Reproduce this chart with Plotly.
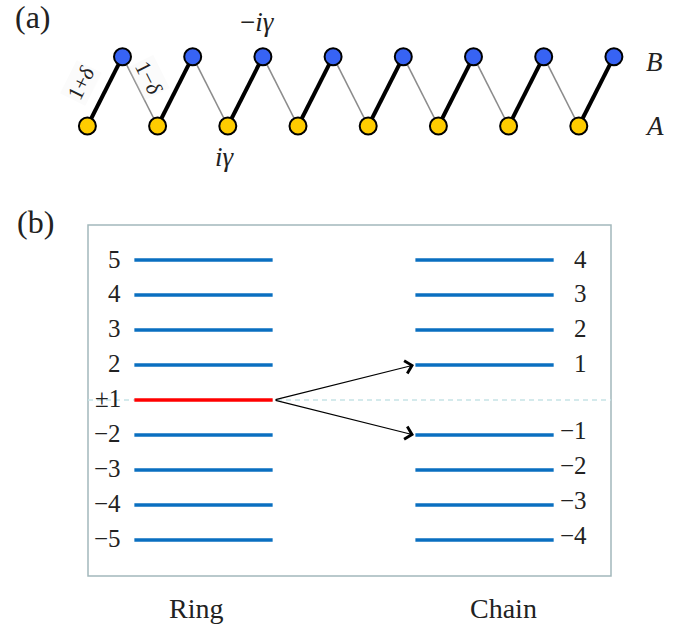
import plotly.graph_objects as go

# ---------------- data ----------------
# panel (a): SSH-like chain, unit cells with A and B sites
unit_cells = [0, 1, 2, 3, 4, 5, 6, 7]
b_offset = 0.5
row_A = 0
row_B = 1

# panel (b): energy levels (slot positions and their labels)
ring_slots = [4, 3, 2, 1, 0, -1, -2, -3, -4]
ring_labels = ["5", "4", "3", "2", "±1", "−2", "−3", "−4", "−5"]
ring_colors = ["#0a6fc0"] * 4 + ["#ff0000"] + ["#0a6fc0"] * 4
chain_slots = [4, 3, 2, 1, -1, -2, -3, -4]
chain_labels = ["4", "3", "2", "1", "−1", "−2", "−3", "−4"]
columns = ["Ring", "Chain"]
col_pos = [0.0, 1.0]
half_w = 0.246

FONT = "Liberation Serif"
BLUE_LINE = "#0a6fc0"

fig = go.Figure()

# ---------------- panel (a) ----------------
a_x = [c for c in unit_cells]
b_x = [c + b_offset for c in unit_cells]

thick_x, thick_y = [], []
for i in range(len(unit_cells)):
    thick_x += [a_x[i], b_x[i], None]
    thick_y += [row_A, row_B, None]
thin_x, thin_y = [], []
for i in range(len(unit_cells) - 1):
    thin_x += [b_x[i], a_x[i + 1], None]
    thin_y += [row_B, row_A, None]

fig.add_trace(go.Scatter(x=thin_x, y=thin_y, mode="lines",
                         line=dict(color="#8c8c8c", width=1.6),
                         xaxis="x", yaxis="y", hoverinfo="skip"))
fig.add_trace(go.Scatter(x=thick_x, y=thick_y, mode="lines",
                         line=dict(color="#000000", width=4),
                         xaxis="x", yaxis="y", hoverinfo="skip"))
fig.add_trace(go.Scatter(x=a_x, y=[row_A] * len(a_x), mode="markers",
                         marker=dict(size=17, color="#ffcc00",
                                     line=dict(color="#000", width=2)),
                         xaxis="x", yaxis="y", hoverinfo="skip"))
fig.add_trace(go.Scatter(x=b_x, y=[row_B] * len(b_x), mode="markers",
                         marker=dict(size=17, color="#3763f4",
                                     line=dict(color="#000", width=2)),
                         xaxis="x", yaxis="y", hoverinfo="skip"))

ann = []
serif = dict(family=FONT, color="#222222")
ann.append(dict(x=-0.097, y=0.616, xref="x", yref="y", text="1+<i>δ</i>",
                showarrow=False, textangle=-63.5,
                bgcolor="rgba(240,240,240,0.25)",
                font=dict(size=22, **serif)))
ann.append(dict(x=0.873, y=0.70, xref="x", yref="y", text="1−<i>δ</i>",
                showarrow=False, textangle=63.5,
                bgcolor="rgba(240,240,240,0.25)",
                font=dict(size=22, **serif)))
ann.append(dict(x=2.43, y=1.505, xref="x", yref="y", text="−<i>iγ</i>",
                showarrow=False, font=dict(size=27, **serif)))
ann.append(dict(x=1.96, y=-0.447, xref="x", yref="y", text="<i>iγ</i>",
                showarrow=False, font=dict(size=27, **serif)))
ann.append(dict(x=8.085, y=0.93, xref="x", yref="y", text="<i>B</i>",
                showarrow=False, font=dict(size=27, **serif)))
ann.append(dict(x=8.085, y=0.0, xref="x", yref="y", text="<i>A</i>",
                showarrow=False, font=dict(size=27, **serif)))

# ---------------- panel (b) ----------------
# dashed zero line
fig.add_trace(go.Scatter(x=[-0.411, 1.450], y=[0, 0], mode="lines",
                         line=dict(color="#c6e4e6", width=1.5, dash="5px,4px"),
                         xaxis="x2", yaxis="y2", hoverinfo="skip"))

for s, c in zip(ring_slots, ring_colors):
    fig.add_trace(go.Scatter(x=[col_pos[0] - half_w, col_pos[0] + half_w], y=[s, s],
                             mode="lines", line=dict(color=c, width=3.5),
                             xaxis="x2", yaxis="y2", hoverinfo="skip"))
for s in chain_slots:
    fig.add_trace(go.Scatter(x=[col_pos[1] - half_w, col_pos[1] + half_w], y=[s, s],
                             mode="lines", line=dict(color=BLUE_LINE, width=3.5),
                             xaxis="x2", yaxis="y2", hoverinfo="skip"))

for s, lab in zip(ring_slots, ring_labels):
    ann.append(dict(x=col_pos[0] - half_w - 0.04, y=s, xref="x2", yref="y2",
                    text=lab, showarrow=False, xanchor="right", yanchor="middle",
                    yshift=1, font=dict(size=25, **serif)))
for s, lab in zip(chain_slots, chain_labels):
    ann.append(dict(x=col_pos[1] + half_w + 0.125, y=s, xref="x2", yref="y2",
                    text=lab, showarrow=False, xanchor="right", yanchor="middle",
                    yshift=(4 if s < 0 else 1), font=dict(size=25, **serif)))

# arrows from degenerate ring level to split chain levels
for target in [1, -1]:
    ann.append(dict(x=col_pos[1] - half_w - 0.005, y=target, ax=col_pos[0] + half_w + 0.005, ay=0,
                    xref="x2", yref="y2", axref="x2", ayref="y2",
                    text="", showarrow=True, arrowhead=4, arrowsize=2.1,
                    arrowwidth=1.2, arrowcolor="#000000"))

# column labels
ann.append(dict(x=-0.027, y=1 - 608 / 629, xref="x2", yref="paper", text=columns[0],
                xanchor="center", yanchor="middle",
                showarrow=False, font=dict(size=28, **serif)))
ann.append(dict(x=1.068, y=1 - 608 / 629, xref="x2", yref="paper", text=columns[1],
                xanchor="center", yanchor="middle",
                showarrow=False, font=dict(size=28, **serif)))

# panel labels
ann.append(dict(x=33 / 682, y=1 - 17 / 629, xref="paper", yref="paper", text="(a)",
                xanchor="center", yanchor="middle",
                showarrow=False, font=dict(size=32, **serif)))
ann.append(dict(x=35 / 682, y=1 - 222 / 629, xref="paper", yref="paper", text="(b)",
                xanchor="center", yanchor="middle",
                showarrow=False, font=dict(size=32, **serif)))

shapes = [dict(type="rect", xref="x2 domain", yref="y2 domain", x0=0, x1=1, y0=0, y1=1,
               line=dict(color="#a3b8bc", width=1.5), layer="below")]

noaxis = dict(visible=False, showgrid=False, zeroline=False, fixedrange=True)
fig.update_layout(
    width=682, height=629,
    margin=dict(l=0, r=0, t=0, b=0),
    paper_bgcolor="white", plot_bgcolor="rgba(0,0,0,0)",
    showlegend=False,
    xaxis=dict(domain=[0, 1], range=[-1.245, 8.47], anchor="y", **noaxis),
    yaxis=dict(domain=[1 - 180 / 629, 1], range=[-0.779, 1.818], anchor="x", **noaxis),
    xaxis2=dict(domain=[88 / 682, 611 / 682], range=[-0.411, 1.450], anchor="y2", **noaxis),
    yaxis2=dict(domain=[53 / 629, 404 / 629], range=[-5.03, 5.0], anchor="x2", **noaxis),
    annotations=ann,
    shapes=shapes,
)

fig.write_html("out.html", config={"displayModeBar": False},
               post_script="document.body.style.margin='0';")
